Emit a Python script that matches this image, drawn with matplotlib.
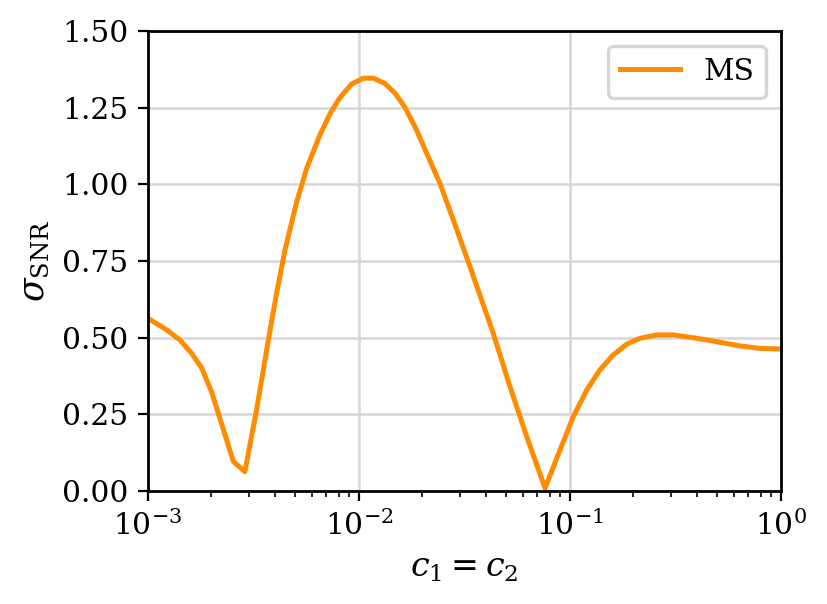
import matplotlib
matplotlib.use("Agg")
import matplotlib.pyplot as plt

plt.rcParams['font.family'] = 'DejaVu Serif'
plt.rcParams['mathtext.fontset'] = 'dejavuserif'

c_vals = [0.001, 0.00123, 0.00142, 0.00161, 0.0018, 0.002, 0.00223, 0.00254,
          0.00288, 0.00327, 0.00372, 0.00407, 0.00446, 0.00507, 0.00565,
          0.00653, 0.0073, 0.00813, 0.00923, 0.01047, 0.0117, 0.01327,
          0.01483, 0.01652, 0.01875, 0.02094, 0.0242, 0.028, 0.0336, 0.0433,
          0.052, 0.0624, 0.0762, 0.0897, 0.1037, 0.12, 0.1387, 0.160, 0.186,
          0.215, 0.258, 0.309, 0.398, 0.495, 0.64, 0.794, 1.0]
sigma_ms = [0.563, 0.525, 0.492, 0.449, 0.40, 0.324, 0.22, 0.096,
            0.063, 0.264, 0.492, 0.645, 0.786, 0.943, 1.052,
            1.161, 1.231, 1.283, 1.327, 1.346, 1.346, 1.329,
            1.297, 1.251, 1.177, 1.101, 1.003, 0.884, 0.731, 0.514,
            0.34, 0.177, 0.009, 0.134, 0.242, 0.329, 0.395, 0.443, 0.479,
            0.498, 0.509, 0.509, 0.498, 0.487, 0.473, 0.465, 0.463]

fig = plt.figure(figsize=(4.14, 3.02), dpi=200)
ax = fig.add_axes([0.1787, 0.1871, 0.9432 - 0.1787, 0.9487 - 0.1871])
ax.plot(c_vals, sigma_ms, color='darkorange', lw=1.8, label='MS')
ax.set_xscale('log')
ax.set_xlim(1e-3, 1)
ax.set_ylim(0, 1.5)
ax.set_yticks([0, 0.25, 0.5, 0.75, 1.0, 1.25, 1.5])
ax.grid(True, which='major', color='#d6d6d6', lw=0.9)
ax.set_axisbelow(True)
ax.tick_params(labelsize=10.7)
for s in ax.spines.values():
    s.set_linewidth(1.0)
ax.set_xlabel(r'$c_1 = c_2$', fontsize=12)
ax.set_ylabel(r'$\sigma_{\rm SNR}$', fontsize=12.5)
leg = ax.legend(loc='upper right', fontsize=10.7)
leg.get_frame().set_edgecolor('#cccccc')
leg.get_frame().set_linewidth(1.2)
fig.savefig('out.png', dpi=200)
